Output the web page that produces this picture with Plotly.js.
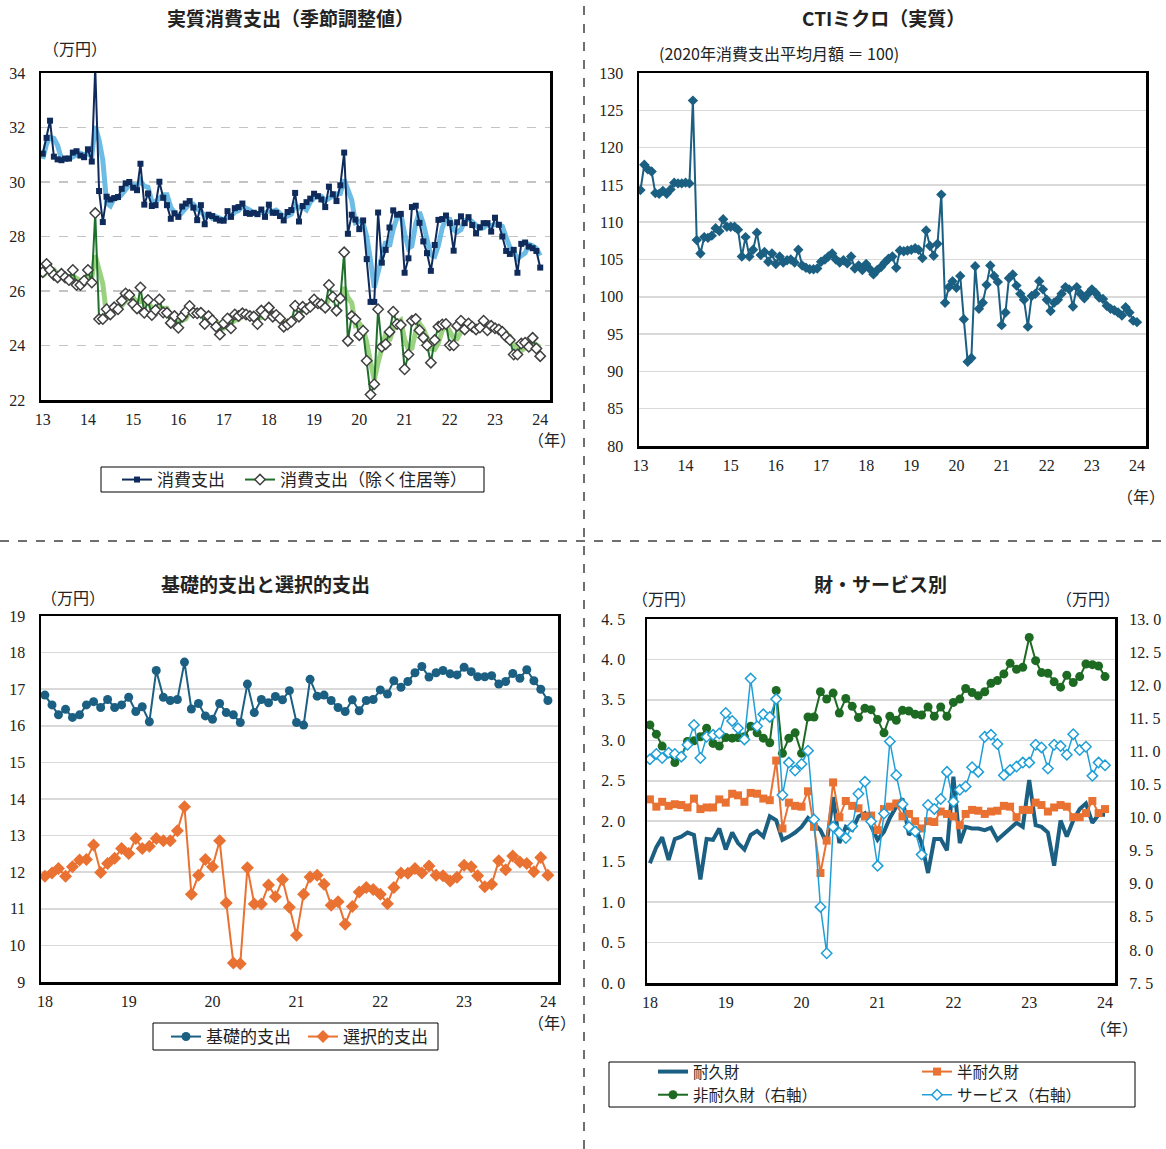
<!DOCTYPE html>
<html>
<head>
<meta charset="utf-8">
<script src="https://cdn.plot.ly/plotly-3.0.1.min.js"></script>
<style>
html, body { margin: 0; padding: 0; background: #fff; }
#chart { width: 1166px; height: 1149px; }
</style>
</head>
<body>
<div id="chart"></div>
<script>
// 月次系列の日付キー（各月1日）
function monthKeys(startYear, count) {
  const out = [];
  for (let k = 0; k < count; k++) {
    const y = startYear + Math.floor(k / 12);
    const m = (k % 12) + 1;
    out.push(y + '-' + String(m).padStart(2, '0') + '-01');
  }
  return out;
}
const months2013 = monthKeys(2013, 133); // 2013年1月～2024年1月
const months2018 = monthKeys(2018, 73);  // 2018年1月～2024年1月

const yearTicks2013 = ['2013-01-01','2014-01-01','2015-01-01','2016-01-01','2017-01-01','2018-01-01',
  '2019-01-01','2020-01-01','2021-01-01','2022-01-01','2023-01-01','2024-01-01'];
const yearLabels2013 = ['13','14','15','16','17','18','19','20','21','22','23','24'];
const yearTicks2018 = ['2018-01-01','2019-01-01','2020-01-01','2021-01-01','2022-01-01','2023-01-01','2024-01-01'];
const yearLabels2018 = ['18','19','20','21','22','23','24'];

// 実質消費支出（季節調整値、万円）
const spending = [
  31.04,31.62,32.25,30.93,30.83,30.80,30.86,30.86,31.08,31.13,30.97,30.91,
  31.20,30.75,34.20,29.67,28.53,29.46,29.36,29.41,29.45,29.75,29.95,30.00,
  29.79,29.70,30.67,29.17,29.58,29.12,29.15,30.01,29.42,29.15,28.65,28.85,
  28.72,29.10,29.21,29.30,29.06,28.60,29.15,28.45,28.80,28.75,28.65,28.59,
  28.58,28.93,28.72,29.04,29.08,29.21,28.86,28.83,28.87,28.82,28.99,28.72,
  29.17,28.87,28.87,28.75,28.59,28.90,28.97,29.60,28.55,29.12,29.26,29.39,
  29.57,29.48,29.36,29.08,29.83,29.55,29.30,29.88,31.08,28.10,28.80,28.62,
  28.27,28.59,27.17,25.60,25.60,28.88,27.04,27.51,28.33,28.96,28.80,28.83,
  26.67,27.20,29.08,29.13,28.50,27.82,27.39,26.74,27.69,28.61,28.64,28.77,
  28.49,27.48,28.52,28.74,28.49,28.71,28.42,28.12,28.34,28.49,28.49,28.18,
  28.69,28.43,28.00,27.47,27.36,27.51,26.67,27.73,27.78,27.63,27.57,27.47,
  26.86];
// 同・3か月移動平均
const spendingTrend = [
  30.85,31.40,31.64,31.60,31.34,30.85,30.83,30.84,30.93,31.02,31.06,31.00,
  31.03,30.95,32.05,31.54,30.80,29.22,29.12,29.41,29.41,29.54,29.72,29.90,
  29.91,29.83,30.05,29.85,29.81,29.29,29.28,29.43,29.53,29.53,29.07,28.88,
  28.74,28.89,29.01,29.20,29.19,28.99,28.94,28.73,28.80,28.67,28.73,28.66,
  28.61,28.70,28.74,28.90,28.95,29.11,29.05,28.97,28.85,28.84,28.89,28.84,
  28.96,28.92,28.97,28.83,28.74,28.75,28.82,29.16,29.04,29.09,28.98,29.26,
  29.41,29.48,29.47,29.31,29.42,29.49,29.56,29.58,30.09,29.69,29.33,28.51,
  28.56,28.49,28.01,27.12,26.12,26.69,27.17,27.81,27.63,28.27,28.70,28.86,
  28.10,27.57,27.65,28.47,28.90,28.48,27.90,27.32,27.27,27.68,28.31,28.67,
  28.63,28.25,28.16,28.25,28.58,28.65,28.54,28.42,28.29,28.32,28.44,28.39,
  28.45,28.43,28.37,27.97,27.61,27.45,27.18,27.30,27.39,27.71,27.66,27.56,
  27.30];
// 消費支出（除く住居等）
const spendingExHousing = [
  26.69,26.99,26.77,26.59,26.50,26.63,26.50,26.40,26.77,26.22,26.22,26.38,
  26.77,26.31,28.86,24.97,24.97,25.33,25.14,25.40,25.33,25.64,25.91,25.85,
  25.52,25.36,26.13,25.20,25.67,25.12,25.30,25.69,25.21,25.20,24.83,25.08,
  24.65,25.06,25.24,25.45,25.20,25.18,25.20,24.79,25.08,24.93,24.69,24.40,
  24.81,24.99,24.63,25.14,25.08,25.18,25.14,25.08,25.06,24.79,25.28,25.12,
  25.39,25.06,25.12,24.99,24.69,24.77,24.87,25.46,25.06,25.42,25.33,25.42,
  25.69,25.55,25.51,25.39,26.22,25.79,25.28,25.73,27.42,24.17,25.08,24.96,
  24.38,24.54,23.44,22.20,22.58,25.33,23.95,24.05,24.50,25.24,24.79,24.75,
  23.13,23.67,24.91,24.97,24.56,24.29,24.01,23.37,24.20,24.69,24.77,24.79,
  24.01,24.01,24.72,24.91,24.59,24.81,24.69,24.59,24.66,24.91,24.56,24.72,
  24.63,24.59,24.50,24.32,24.20,23.67,23.67,24.07,24.10,23.95,24.28,23.89,
  23.61];
// 同・3か月移動平均
const spendingExHousingTrend = [
  26.55,26.70,26.82,26.78,26.62,26.57,26.54,26.51,26.56,26.46,26.40,26.27,
  26.46,26.49,27.31,26.71,26.27,25.09,25.15,25.29,25.29,25.46,25.63,25.80,
  25.76,25.58,25.67,25.56,25.67,25.33,25.36,25.37,25.40,25.37,25.08,25.04,
  24.85,24.93,24.98,25.25,25.30,25.28,25.19,25.06,25.02,24.93,24.90,24.67,
  24.63,24.73,24.81,24.92,24.95,25.13,25.13,25.13,25.09,24.98,25.04,25.06,
  25.26,25.19,25.19,25.06,24.93,24.82,24.78,25.03,25.13,25.31,25.27,25.39,
  25.48,25.55,25.58,25.48,25.71,25.80,25.76,25.60,26.14,25.77,25.56,24.74,
  24.81,24.63,24.12,23.39,22.74,23.37,23.95,24.44,24.17,24.60,24.84,24.93,
  24.22,23.85,23.90,24.52,24.81,24.61,24.29,23.89,23.86,24.09,24.55,24.75,
  24.52,24.27,24.25,24.55,24.74,24.77,24.70,24.70,24.65,24.72,24.71,24.73,
  24.64,24.65,24.57,24.47,24.34,24.06,23.85,23.80,23.95,24.04,24.11,24.04,
  23.93];

// CTIミクロ（実質、2020年平均＝100）
const ctiMicro = [
  114.3,117.7,117.1,116.8,113.9,113.8,114.2,113.8,114.4,115.3,115.2,115.2,
  115.3,115.2,126.3,107.6,105.8,108.0,107.9,108.2,109.2,108.8,110.4,109.4,
  109.4,109.4,109.0,105.4,108.0,105.4,106.3,108.6,105.6,106.0,104.7,105.8,
  104.4,105.4,104.6,104.9,105.0,104.6,106.3,104.2,103.9,103.7,103.7,103.8,
  104.7,105.0,105.4,105.8,105.0,104.6,104.9,104.5,105.4,103.8,104.2,103.6,
  104.4,103.7,103.0,103.6,104.0,104.6,105.1,105.4,103.9,106.2,106.1,106.2,
  106.3,106.5,106.3,105.2,108.9,106.8,105.5,107.1,113.7,99.2,101.3,102.1,
  101.2,102.8,97.0,91.3,91.8,104.1,98.4,99.2,101.6,104.2,102.8,102.0,
  96.2,97.9,102.5,103.0,101.5,100.4,99.6,96.0,100.1,100.4,102.1,101.0,
  99.6,98.1,99.2,99.6,100.4,101.3,101.0,98.7,101.3,100.4,99.8,100.4,
  101.0,100.5,99.9,99.7,98.8,98.4,98.2,97.9,97.5,98.6,97.9,96.8,
  96.6];

// 基礎的支出・選択的支出（万円）
const basicSpending = [
  16.84,16.57,16.30,16.45,16.23,16.30,16.57,16.66,16.50,16.72,16.50,16.57,
  16.78,16.39,16.52,16.11,17.51,16.78,16.69,16.72,17.74,16.46,16.61,16.27,
  16.18,16.61,16.36,16.30,16.09,17.14,16.36,16.72,16.63,16.80,16.71,16.96,
  16.09,16.02,17.27,16.81,16.84,16.69,16.50,16.39,16.71,16.41,16.69,16.72,
  16.98,16.87,17.23,17.05,17.21,17.45,17.62,17.33,17.45,17.51,17.42,17.39,
  17.60,17.48,17.34,17.34,17.37,17.14,17.21,17.43,17.30,17.53,17.23,17.00,
  16.69];
const selectiveSpending = [
  11.89,11.98,12.10,11.89,12.15,12.33,12.35,12.74,11.99,12.24,12.38,12.65,
  12.51,12.92,12.65,12.71,12.92,12.86,12.86,13.13,13.79,11.40,11.92,12.35,
  12.15,12.86,11.16,9.52,9.50,12.12,11.13,11.13,11.65,11.33,11.80,11.04,
  10.28,11.40,11.87,11.92,11.67,11.10,11.19,10.58,11.06,11.46,11.58,11.53,
  11.40,11.14,11.58,11.98,11.97,12.10,11.98,12.17,11.92,11.90,11.76,11.86,
  12.19,12.15,11.90,11.60,11.67,12.31,12.07,12.44,12.28,12.24,12.01,12.40,
  11.92];

// 財・サービス別（万円）
const durableGoods = [
  1.48,1.68,1.80,1.52,1.78,1.81,1.86,1.83,1.28,1.78,1.77,1.91,
  1.65,1.86,1.73,1.65,1.83,1.88,1.81,2.06,2.01,1.77,1.81,1.86,
  1.93,2.04,1.97,1.89,1.73,2.30,1.73,1.93,1.89,2.06,2.10,1.95,
  1.77,1.87,2.04,2.18,2.28,1.83,1.93,1.73,1.36,1.78,1.78,1.64,
  2.55,1.73,1.93,1.91,1.91,1.89,1.92,1.77,1.84,1.91,1.98,1.93,
  2.51,1.95,1.93,1.86,1.45,2.01,1.81,2.01,2.15,2.22,1.98,2.08,
  2.08];
const semiDurableGoods = [
  2.27,2.18,2.24,2.19,2.21,2.20,2.17,2.28,2.15,2.17,2.17,2.27,
  2.23,2.34,2.32,2.24,2.35,2.34,2.28,2.26,2.75,1.91,2.23,2.19,
  2.18,2.37,1.93,1.36,1.76,2.48,2.05,2.25,2.19,2.16,2.06,2.07,
  1.89,2.15,2.18,2.22,2.06,2.09,2.00,1.91,2.00,1.99,2.12,2.09,
  2.06,1.95,2.09,2.14,2.13,2.09,2.12,2.13,2.19,2.18,2.05,2.14,
  2.14,2.23,2.20,2.12,2.17,2.20,2.18,2.05,2.05,2.10,2.25,2.10,
  2.15];
const nonDurableGoods = [
  11.40,11.26,11.08,10.97,10.83,10.92,11.15,11.16,11.22,11.35,11.12,11.08,
  11.21,11.20,11.21,11.22,11.38,11.28,11.20,11.13,11.92,10.97,11.20,11.28,
  10.97,11.52,11.52,11.90,11.79,11.88,11.58,11.80,11.68,11.51,11.65,11.63,
  11.48,11.28,11.53,11.47,11.62,11.61,11.56,11.55,11.67,11.53,11.67,11.53,
  11.74,11.79,11.95,11.89,11.84,11.90,12.03,12.07,12.17,12.33,12.24,12.27,
  12.72,12.37,12.19,12.18,12.05,11.97,12.15,12.04,12.13,12.32,12.31,12.29,
  12.13];
const services = [
  10.88,10.96,10.90,10.98,10.96,10.92,11.10,11.40,10.90,11.22,11.25,11.27,
  11.58,11.46,11.35,11.18,12.10,11.38,11.56,11.52,11.79,10.34,10.83,10.71,
  10.81,11.01,9.97,8.65,7.95,9.86,9.77,9.69,9.87,10.36,10.54,9.94,
  9.27,10.06,11.15,10.64,10.20,9.86,9.79,9.44,10.19,10.13,10.28,10.69,
  10.24,10.42,10.47,10.76,10.69,11.22,11.25,11.11,10.64,10.72,10.77,10.83,
  10.83,11.10,11.06,10.74,11.10,11.08,10.95,11.26,11.02,11.07,10.63,10.83,
  10.79];

const goodsLeftTicks = [0, 0.5, 1, 1.5, 2, 2.5, 3, 3.5, 4, 4.5];
const goodsLeftLabels = ['0. 0','0. 5','1. 0','1. 5','2. 0','2. 5','3. 0','3. 5','4. 0','4. 5'];
const goodsRightTicks = [7.5, 8, 8.5, 9, 9.5, 10, 10.5, 11, 11.5, 12, 12.5, 13];
const goodsRightLabels = ['7. 5','8. 0','8. 5','9. 0','9. 5','10. 0','10. 5','11. 0','11. 5','12. 0','12. 5','13. 0'];

// ---- 配置と書式 ----
const W = 1166, H = 1149;
const px = x => x / W;
const py = y => 1 - y / H;

const JP = 'Noto Sans CJK JP, Noto Sans, sans-serif';
const NUM = 'Liberation Serif, DejaVu Serif, Noto Sans CJK JP, serif';

const C = {
  navy: '#0f2b5b', sky: '#5cb5e3', green: '#1f6f2b', lightGreen: '#8fcd72',
  teal: '#1b5f82', orange: '#e97132', forest: '#1d6a22', cyan: '#1f9fd8'
};

const traces = [
  // 実質消費支出
  { x: months2013, y: spendingTrend, xaxis: 'x', yaxis: 'y', mode: 'lines',
    line: { color: C.sky, width: 5 }, opacity: 0.9, showlegend: false },
  { x: months2013, y: spendingExHousingTrend, xaxis: 'x', yaxis: 'y', mode: 'lines',
    line: { color: C.lightGreen, width: 5 }, opacity: 0.9, showlegend: false },
  { x: months2013, y: spending, xaxis: 'x', yaxis: 'y', mode: 'lines+markers', name: '消費支出',
    line: { color: C.navy, width: 2 }, marker: { symbol: 'square', size: 6, color: C.navy },
    legend: 'legend' },
  { x: months2013, y: spendingExHousing, xaxis: 'x', yaxis: 'y', mode: 'lines+markers',
    name: '消費支出（除く住居等）',
    line: { color: C.green, width: 2 },
    marker: { symbol: 'diamond', size: 8, color: '#ffffff', line: { color: '#404040', width: 1.5 } },
    legend: 'legend5' },

  // CTIミクロ
  { x: months2013, y: ctiMicro, xaxis: 'x2', yaxis: 'y2', mode: 'lines+markers',
    line: { color: C.teal, width: 2 }, marker: { symbol: 'diamond', size: 8, color: C.teal },
    showlegend: false },

  // 基礎的支出と選択的支出
  { x: months2018, y: basicSpending, xaxis: 'x3', yaxis: 'y3', mode: 'lines+markers', name: '基礎的支出',
    line: { color: C.teal, width: 2 }, marker: { symbol: 'circle', size: 9, color: C.teal },
    legend: 'legend2' },
  { x: months2018, y: selectiveSpending, xaxis: 'x3', yaxis: 'y3', mode: 'lines+markers', name: '選択的支出',
    line: { color: C.orange, width: 2 }, marker: { symbol: 'diamond', size: 10, color: C.orange },
    legend: 'legend6' },

  // 財・サービス別
  { x: months2018, y: durableGoods, xaxis: 'x4', yaxis: 'y4', mode: 'lines', name: '耐久財',
    line: { color: C.teal, width: 4 }, legend: 'legend3' },
  { x: months2018, y: semiDurableGoods, xaxis: 'x4', yaxis: 'y4', mode: 'lines+markers', name: '半耐久財',
    line: { color: C.orange, width: 2 }, marker: { symbol: 'square', size: 8, color: C.orange },
    legend: 'legend4' },
  { x: months2018, y: nonDurableGoods, xaxis: 'x4', yaxis: 'y5', mode: 'lines+markers', name: '非耐久財（右軸）',
    line: { color: C.forest, width: 2 }, marker: { symbol: 'circle', size: 9, color: C.forest },
    legend: 'legend3' },
  { x: months2018, y: services, xaxis: 'x4', yaxis: 'y5', mode: 'lines+markers', name: 'サービス（右軸）',
    line: { color: C.cyan, width: 1.5 },
    marker: { symbol: 'diamond', size: 8, color: '#ffffff', line: { color: C.cyan, width: 1.5 } },
    legend: 'legend4' }
];

function xAxis(d0, d1, range, tickvals, ticktext, anchor) {
  return {
    domain: [px(d0), px(d1)], anchor: anchor, type: 'date', range: range,
    tickmode: 'array', tickvals: tickvals, ticktext: ticktext,
    showgrid: false, zeroline: false, showline: true, mirror: true,
    linecolor: '#000', linewidth: 2.5,
    ticks: 'outside', ticklen: 3, tickcolor: 'rgba(0,0,0,0)',
    tickfont: { family: NUM, size: 16, color: '#222' }
  };
}
function yAxis(top, bottom, range, dtick, anchor, grid) {
  return Object.assign({
    domain: [py(bottom), py(top)], anchor: anchor, range: range,
    tickmode: 'linear', tick0: range[0], dtick: dtick,
    zeroline: false, showline: true, mirror: true,
    linecolor: '#000', linewidth: 2.5,
    ticks: 'outside', ticklen: 10, tickcolor: 'rgba(0,0,0,0)',
    tickfont: { family: NUM, size: 16, color: '#222' }
  }, grid);
}

const solidGrid = { showgrid: true, gridcolor: '#d9d9d9', gridwidth: 1.5 };

const legendFont = { family: JP, size: 17, color: '#222' };
const goodsLegendFont = { family: JP, size: 15.5, color: '#222' };

// 凡例1項目ぶん（枠は図形で描く）
function legendAt(x, yTop, font) {
  return { x: px(x), y: py(yTop), xanchor: 'left', yanchor: 'top', orientation: 'v',
    bgcolor: 'rgba(0,0,0,0)', borderwidth: 0, tracegroupgap: 0, font: font };
}

const layout = {
  width: W, height: H,
  margin: { l: 0, r: 0, t: 0, b: 0, autoexpand: false },
  paper_bgcolor: '#fff', plot_bgcolor: '#fff',
  font: { family: JP, color: '#222' },
  hovermode: false,

  xaxis: xAxis(41, 550, ['2012-12-18', '2024-03-20'], yearTicks2013, yearLabels2013, 'y'),
  yaxis: yAxis(73, 400, [22, 34], 2, 'x', { showgrid: true, gridcolor: '#c4c4c4', griddash: 'dash', gridwidth: 1.2 }),

  xaxis2: xAxis(639, 1146, ['2012-12-20', '2024-03-14'], yearTicks2013, yearLabels2013, 'y2'),
  yaxis2: yAxis(73, 446, [80, 130], 5, 'x2', solidGrid),

  xaxis3: xAxis(41, 558, ['2017-12-15', '2024-02-14'], yearTicks2018, yearLabels2018, 'y3'),
  yaxis3: yAxis(616, 982, [9, 19], 1, 'x3', solidGrid),

  xaxis4: xAxis(647, 1115, ['2017-12-18', '2024-02-18'], yearTicks2018, yearLabels2018, 'y4'),
  yaxis4: Object.assign(yAxis(619, 983, [0, 4.5], 0.5, 'x4', solidGrid),
    { tickmode: 'array', tickvals: goodsLeftTicks, ticktext: goodsLeftLabels, ticklen: 16 }),
  yaxis5: {
    overlaying: 'y4', side: 'right', anchor: 'x4', range: [7.5, 13],
    tickmode: 'array', tickvals: goodsRightTicks, ticktext: goodsRightLabels,
    showgrid: false, zeroline: false, showline: false,
    ticks: 'outside', ticklen: 10, tickcolor: 'rgba(0,0,0,0)',
    tickfont: { family: NUM, size: 16, color: '#222' }
  },

  legend: legendAt(117, 462, legendFont),
  legend5: legendAt(240, 462, legendFont),
  legend2: legendAt(166, 1019, legendFont),
  legend6: legendAt(303, 1019, legendFont),
  legend3: legendAt(653, 1055, goodsLegendFont),
  legend4: legendAt(917, 1055, goodsLegendFont),

  shapes: [
    { type: 'line', xref: 'paper', yref: 'paper', x0: px(584), x1: px(584), y0: 0, y1: 1,
      line: { color: '#404040', width: 1.5, dash: 'dash' } },
    { type: 'line', xref: 'paper', yref: 'paper', x0: 0, x1: 1, y0: py(541), y1: py(541),
      line: { color: '#404040', width: 1.5, dash: 'dash' } },
    // 凡例の枠
    { type: 'rect', xref: 'paper', yref: 'paper', x0: px(101), x1: px(484), y0: py(492), y1: py(467),
      line: { color: '#000', width: 1 } },
    { type: 'rect', xref: 'paper', yref: 'paper', x0: px(153), x1: px(438), y0: py(1050), y1: py(1023),
      line: { color: '#000', width: 1 } },
    { type: 'rect', xref: 'paper', yref: 'paper', x0: px(609), x1: px(1135), y0: py(1107), y1: py(1062),
      line: { color: '#000', width: 1 } }
  ],

  annotations: [
    { text: '<b>実質消費支出（季節調整値）</b>', x: px(290), y: py(18), font: { size: 19 } },
    { text: '（万円）', x: px(75), y: py(48), font: { size: 16 } },
    { text: '（年）', x: px(552), y: py(439), font: { size: 16 } },

    { text: '<b>CTIミクロ（実質）</b>', x: px(883), y: py(18), font: { size: 19 } },
    { text: '(2020年消費支出平均月額 ＝ 100)', x: px(779), y: py(53), font: { size: 16 } },
    { text: '（年）', x: px(1141), y: py(496), font: { size: 16 } },

    { text: '<b>基礎的支出と選択的支出</b>', x: px(265), y: py(583), font: { size: 19 } },
    { text: '（万円）', x: px(73), y: py(597), font: { size: 16 } },
    { text: '（年）', x: px(552), y: py(1022), font: { size: 16 } },

    { text: '<b>財・サービス別</b>', x: px(880), y: py(583), font: { size: 19 } },
    { text: '（万円）', x: px(664), y: py(598), font: { size: 16 } },
    { text: '（万円）', x: px(1088), y: py(598), font: { size: 16 } },
    { text: '（年）', x: px(1114), y: py(1028), font: { size: 16 } }
  ].map(a => Object.assign({ xref: 'paper', yref: 'paper', showarrow: false,
    xanchor: 'center', yanchor: 'middle' }, a, { font: Object.assign({ family: JP, color: '#222' }, a.font) }))
};

Plotly.newPlot('chart', traces, layout, { displayModeBar: false, staticPlot: true });
</script>
</body>
</html>
